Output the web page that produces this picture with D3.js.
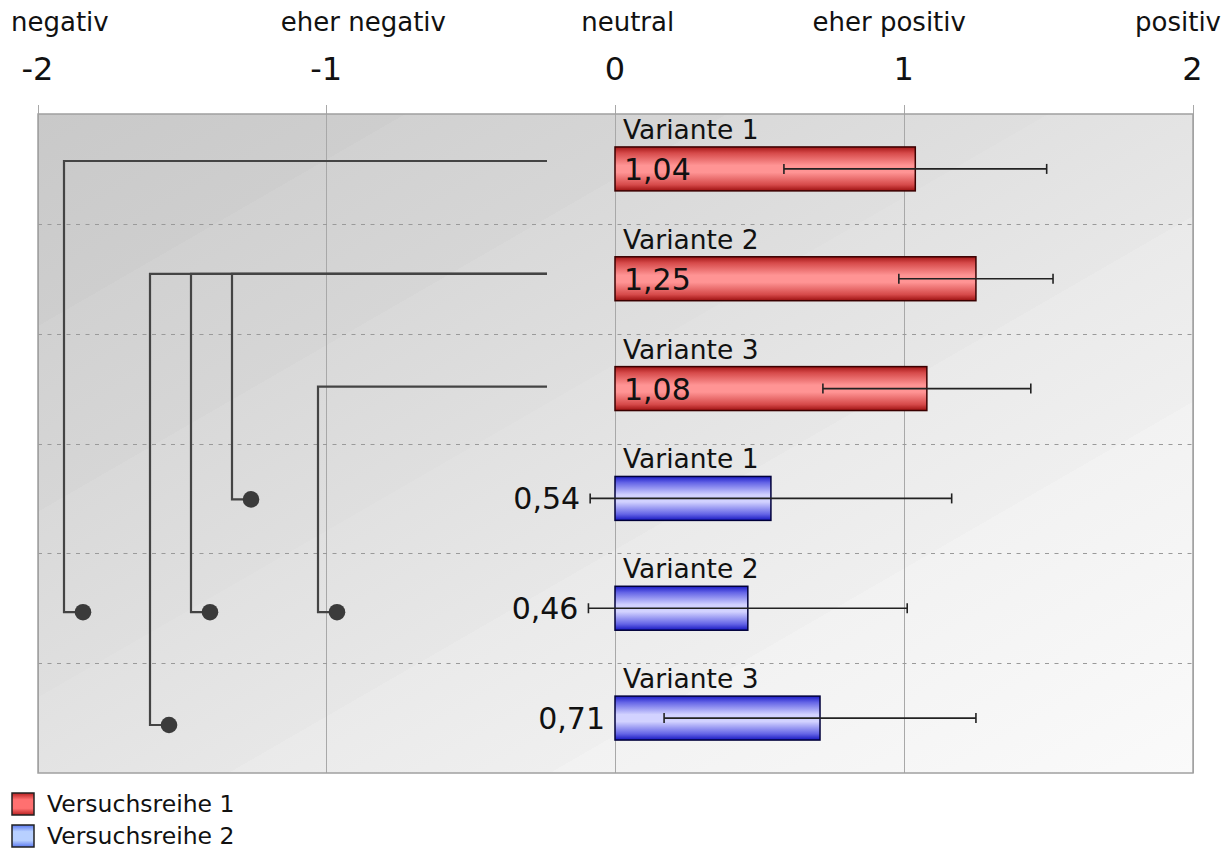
<!DOCTYPE html>
<html>
<head>
<meta charset="utf-8">
<script src="https://cdn.jsdelivr.net/npm/d3@7"></script>
<style>
  html, body { margin: 0; padding: 0; background: #ffffff; }
  svg { display: block; font-family: "DejaVu Sans", Verdana, sans-serif; }
</style>
</head>
<body>
<svg id="chart" width="1232" height="849"></svg>
<script>
// ---- data ----
const rowLabels = ["Variante 1", "Variante 2", "Variante 3", "Variante 1", "Variante 2", "Variante 3"];
const rowSeries = [0, 0, 0, 1, 1, 1];
const seriesNames = ["Versuchsreihe 1", "Versuchsreihe 2"];
const means = [1.04, 1.25, 1.08, 0.54, 0.46, 0.71];
const errors = [0.455, 0.267, 0.36, 0.626, 0.552, 0.54];
const tickValues = [-2, -1, 0, 1, 2];
const tickLabels = ["-2", "-1", "0", "1", "2"];
const scaleLabels = ["negativ", "eher negativ", "neutral", "eher positiv", "positiv"];
// significant pairwise comparisons (row index -> row index)
const compareFrom = [0, 1, 1, 1, 2];
const compareTo = [4, 5, 4, 3, 4];

const fmt = v => v.toFixed(2).replace(".", ",");

// ---- layout ----
const W = 1232, H = 849;
const plot = { left: 38, right: 1193, top: 114, bottom: 773 };
const svg = d3.select("#chart");
const defs = svg.append("defs");

const x = d3.scaleLinear().domain([-2, 2]).range([37.5, 1192.5]);
const y = d3.scaleBand().domain(d3.range(rowLabels.length)).range([plot.top, plot.bottom]);
const bw = y.bandwidth();
const barH = bw * 0.4;
const rowMid = i => y(i) + bw / 2;

// ---- gradients ----
function vGrad(id, stops) {
  const g = defs.append("linearGradient").attr("id", id)
    .attr("x1", 0).attr("y1", 0).attr("x2", 0).attr("y2", 1);
  stops.forEach(([o, c]) => g.append("stop").attr("offset", o).attr("stop-color", c));
}
vGrad("barRed", [[0, "#a31616"], [0.14, "#d64a4a"], [0.42, "#ff9494"], [0.58, "#ff9494"], [0.86, "#d64a4a"], [1, "#9c1010"]]);
vGrad("barBlue", [[0, "#1c1cc8"], [0.14, "#6464e6"], [0.42, "#d2d2ff"], [0.58, "#d2d2ff"], [0.86, "#6464e6"], [1, "#1616c0"]]);
vGrad("legRed", [[0, "#b82020"], [0.3, "#ff7070"], [0.7, "#ff7070"], [1, "#b82020"]]);
vGrad("legBlue", [[0, "#5a78f0"], [0.3, "#b8d0ff"], [0.7, "#b8d0ff"], [1, "#5a78f0"]]);
const barFill = ["url(#barRed)", "url(#barBlue)"];
const barStroke = ["#3a0000", "#00003a"];
const legFill = ["url(#legRed)", "url(#legBlue)"];

// diagonal background wash with soft bands
const nx = 0.5, ny = 0.866, len = (plot.right - plot.left) * nx + (plot.bottom - plot.top) * ny;
const bg = defs.append("linearGradient").attr("id", "bgWash")
  .attr("gradientUnits", "userSpaceOnUse")
  .attr("x1", plot.left).attr("y1", plot.top)
  .attr("x2", plot.left + nx * len).attr("y2", plot.top + ny * len);
[[0, "#c9c9c9"], [0.16, "#cecece"], [0.16, "#d1d1d1"], [0.3, "#d6d6d6"], [0.3, "#d9d9d9"],
 [0.44, "#dfdfdf"], [0.44, "#e1e1e1"], [0.58, "#e7e7e7"], [0.58, "#eaeaea"], [0.72, "#efefef"],
 [0.72, "#f2f2f2"], [0.86, "#f6f6f6"], [1, "#fafafa"]]
  .forEach(([o, c]) => bg.append("stop").attr("offset", o).attr("stop-color", c));

svg.append("rect")
  .attr("x", plot.left).attr("y", plot.top)
  .attr("width", plot.right - plot.left).attr("height", plot.bottom - plot.top)
  .attr("fill", "url(#bgWash)");

// ---- grid ----
const grid = svg.append("g");
grid.selectAll("line.v").data(tickValues).join("line")
  .attr("x1", d => Math.round(x(d)) + 0.5).attr("x2", d => Math.round(x(d)) + 0.5)
  .attr("y1", plot.top - 9).attr("y2", plot.bottom)
  .attr("stroke", "#a8a8a8").attr("stroke-width", 1);
grid.selectAll("line.h").data(d3.range(1, rowLabels.length)).join("line")
  .attr("x1", plot.left).attr("x2", plot.right)
  .attr("y1", d => Math.round(y(d)) + 0.5).attr("y2", d => Math.round(y(d)) + 0.5)
  .attr("stroke", "#9a9a9a").attr("stroke-width", 1).attr("stroke-dasharray", "4,5.5");
svg.append("rect")
  .attr("x", plot.left).attr("y", plot.top)
  .attr("width", plot.right - plot.left).attr("height", plot.bottom - plot.top)
  .attr("fill", "none").attr("stroke", "#a0a0a0").attr("stroke-width", 1.5);

// ---- axis tick labels ----
svg.append("g").selectAll("text").data(tickValues).join("text")
  .attr("x", d => x(d)).attr("y", 80)
  .attr("text-anchor", "middle").attr("font-size", 32).attr("fill", "#111")
  .text((d, i) => tickLabels[i]);

// ---- scale wording, justified across the page ----
const headG = svg.append("g");
const heads = headG.selectAll("text").data(scaleLabels).join("text")
  .attr("y", 31).attr("font-size", 26).attr("fill", "#111").text(d => d);
const widths = heads.nodes().map(n => n.getComputedTextLength());
const leftEdge = 11, rightEdge = 1221;
const gapWeights = [1.12, 0.88, 0.9, 1.1];
const free = (rightEdge - leftEdge) - d3.sum(widths);
const unit = free / d3.sum(gapWeights);
let cursor = leftEdge;
heads.each(function(d, i) {
  d3.select(this).attr("x", cursor);
  cursor += widths[i] + (i < gapWeights.length ? gapWeights[i] * unit : 0);
});

// ---- comparison connectors ----
const cy = d3.scalePoint().domain(d3.range(rowLabels.length))
  .range([plot.top + 47, plot.bottom - 48]);
const comps = compareFrom.map((f, i) => ({ from: f, to: compareTo[i] }))
  .sort((a, b) => a.from - b.from || b.to - a.to);
const groups = Array.from(new Set(comps.map(c => c.from)));
comps.forEach((c, i) => {
  c.lane = i;
  c.group = groups.indexOf(c.from);
  c.lx = x(-2) + 26.5 + c.lane * 41 + c.group * 45;
});
const lineEnd = x(0) - 68;
const conn = svg.append("g").attr("fill", "none").attr("stroke", "#444").attr("stroke-width", 2.2);
conn.selectAll("path").data(comps).join("path")
  .attr("d", c => `M${lineEnd},${cy(c.from)}H${c.lx}V${cy(c.to)}H${c.lx + 19}`);
svg.append("g").selectAll("circle").data(comps).join("circle")
  .attr("cx", c => c.lx + 19).attr("cy", c => cy(c.to)).attr("r", 8.3)
  .attr("fill", "#3b3b3b");

// ---- bars ----
const rows = rowLabels.map((lab, i) => ({ i, lab, s: rowSeries[i], m: means[i], e: errors[i] }));
const barG = svg.append("g");
barG.selectAll("rect").data(rows).join("rect")
  .attr("x", d => x(0)).attr("y", d => rowMid(d.i) - barH / 2)
  .attr("width", d => x(d.m) - x(0)).attr("height", barH)
  .attr("fill", d => barFill[d.s]).attr("stroke", d => barStroke[d.s]).attr("stroke-width", 1.5);

// row captions
svg.append("g").selectAll("text").data(rows).join("text")
  .attr("x", x(0) + 8).attr("y", d => rowMid(d.i) - barH / 2 - 8)
  .attr("font-size", 26.5).attr("fill", "#111").text(d => d.lab);

// error bars
const errG = svg.append("g").attr("stroke", "#222").attr("stroke-width", 1.6);
rows.forEach(d => {
  const yy = rowMid(d.i);
  const x0 = x(d.m - d.e), x1 = x(d.m + d.e);
  errG.append("line").attr("x1", x0).attr("x2", x1).attr("y1", yy).attr("y2", yy);
  errG.append("line").attr("x1", x0).attr("x2", x0).attr("y1", yy - 5).attr("y2", yy + 5);
  errG.append("line").attr("x1", x1).attr("x2", x1).attr("y1", yy - 5).attr("y2", yy + 5);
});

// value labels: inside long bars, left of short ones
svg.append("g").selectAll("text").data(rows).join("text")
  .attr("font-size", 30).attr("fill", "#111")
  .attr("y", d => rowMid(d.i) + 11)
  .attr("text-anchor", d => d.m >= 1 ? "start" : "end")
  .attr("x", d => d.m >= 1 ? x(0) + 9 : Math.min(x(0), x(d.m - d.e)) - 10)
  .text(d => fmt(d.m));

// ---- legend ----
const leg = svg.append("g").selectAll("g").data(seriesNames).join("g")
  .attr("transform", (d, i) => `translate(12,${793 + i * 32})`);
leg.append("rect").attr("width", 22).attr("height", 22)
  .attr("fill", (d, i) => legFill[i]).attr("stroke", "#222").attr("stroke-width", 1.5);
leg.append("text").attr("x", 35).attr("y", 19).attr("font-size", 23.5).attr("fill", "#111")
  .text(d => d);
</script>
</body>
</html>
